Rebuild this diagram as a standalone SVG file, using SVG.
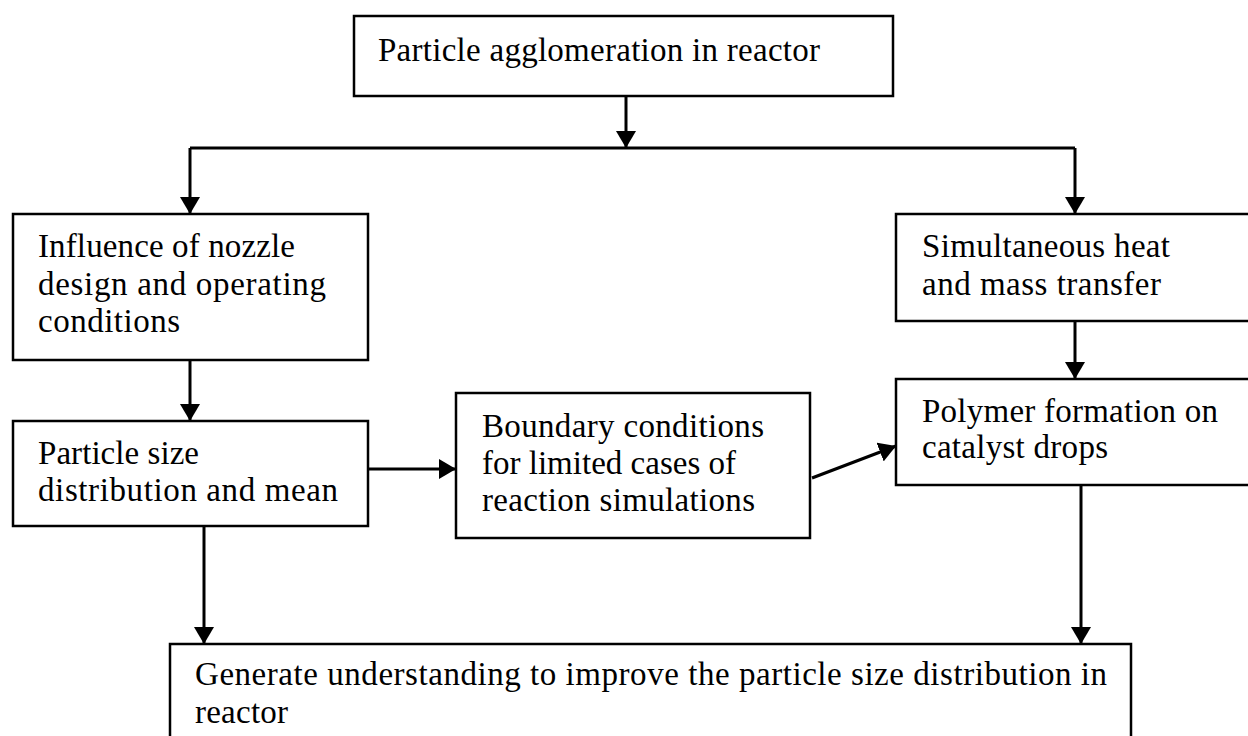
<svg xmlns="http://www.w3.org/2000/svg" width="1248" height="736" viewBox="0 0 1248 736">
<style>
.box{fill:#fff;stroke:#000;stroke-width:2.5}
.t{font-family:"Liberation Serif","Times New Roman",serif;font-size:33px;fill:#000}
.c{fill:none;stroke:#000;stroke-width:3}
</style>
<defs>
<marker id="ah" viewBox="0 0 17 20" refX="17" refY="10" markerWidth="17" markerHeight="20" markerUnits="userSpaceOnUse" orient="auto">
<path d="M0,0 L17,10 L0,20 Z" fill="#000"/>
</marker>
</defs>
<rect width="1248" height="736" fill="#fff"/>
<g id="n-top"><rect class="box" x="354" y="16" width="539" height="80"/><text class="t" x="378" y="61" textLength="442">Particle agglomeration in reactor</text></g>
<g id="n-nozzle"><rect class="box" x="13" y="214" width="355" height="146"/><text class="t" x="38" y="257" textLength="257">Influence of nozzle</text><text class="t" x="38" y="295" textLength="288">design and operating</text><text class="t" x="38" y="332" textLength="142">conditions</text></g>
<g id="n-psd"><rect class="box" x="13" y="421" width="355" height="105"/><text class="t" x="38" y="464" textLength="161">Particle size</text><text class="t" x="38" y="501" textLength="300">distribution and mean</text></g>
<g id="n-boundary"><rect class="box" x="456" y="393" width="354" height="145"/><text class="t" x="482" y="437" textLength="282">Boundary conditions</text><text class="t" x="482" y="474" textLength="254">for limited cases of</text><text class="t" x="482" y="511" textLength="273">reaction simulations</text></g>
<g id="n-heat"><rect class="box" x="896" y="214" width="370" height="107"/><text class="t" x="922" y="257" textLength="248">Simultaneous heat</text><text class="t" x="922" y="295" textLength="239">and mass transfer</text></g>
<g id="n-polymer"><rect class="box" x="896" y="379" width="370" height="106"/><text class="t" x="922" y="422" textLength="296">Polymer formation on</text><text class="t" x="922" y="458" textLength="186">catalyst drops</text></g>
<g id="n-bottom"><rect class="box" x="170" y="644" width="961" height="120"/><text class="t" x="195" y="685" textLength="912">Generate understanding to improve the particle size distribution in</text><text class="t" x="195" y="723" textLength="93">reactor</text></g>
<g id="connectors">
<path class="c" d="M626,96 V148" marker-end="url(#ah)"/>
<path class="c" d="M190,148 H1075"/>
<path class="c" d="M190,148 V214" marker-end="url(#ah)"/>
<path class="c" d="M1075,148 V214" marker-end="url(#ah)"/>
<path class="c" d="M190,360 V421" marker-end="url(#ah)"/>
<path class="c" d="M368,469 H456" marker-end="url(#ah)"/>
<path class="c" d="M812,478 L896,446" marker-end="url(#ah)"/>
<path class="c" d="M1075,321 V379" marker-end="url(#ah)"/>
<path class="c" d="M204,526 V644" marker-end="url(#ah)"/>
<path class="c" d="M1081,485 V644" marker-end="url(#ah)"/>
</g>
</svg>
